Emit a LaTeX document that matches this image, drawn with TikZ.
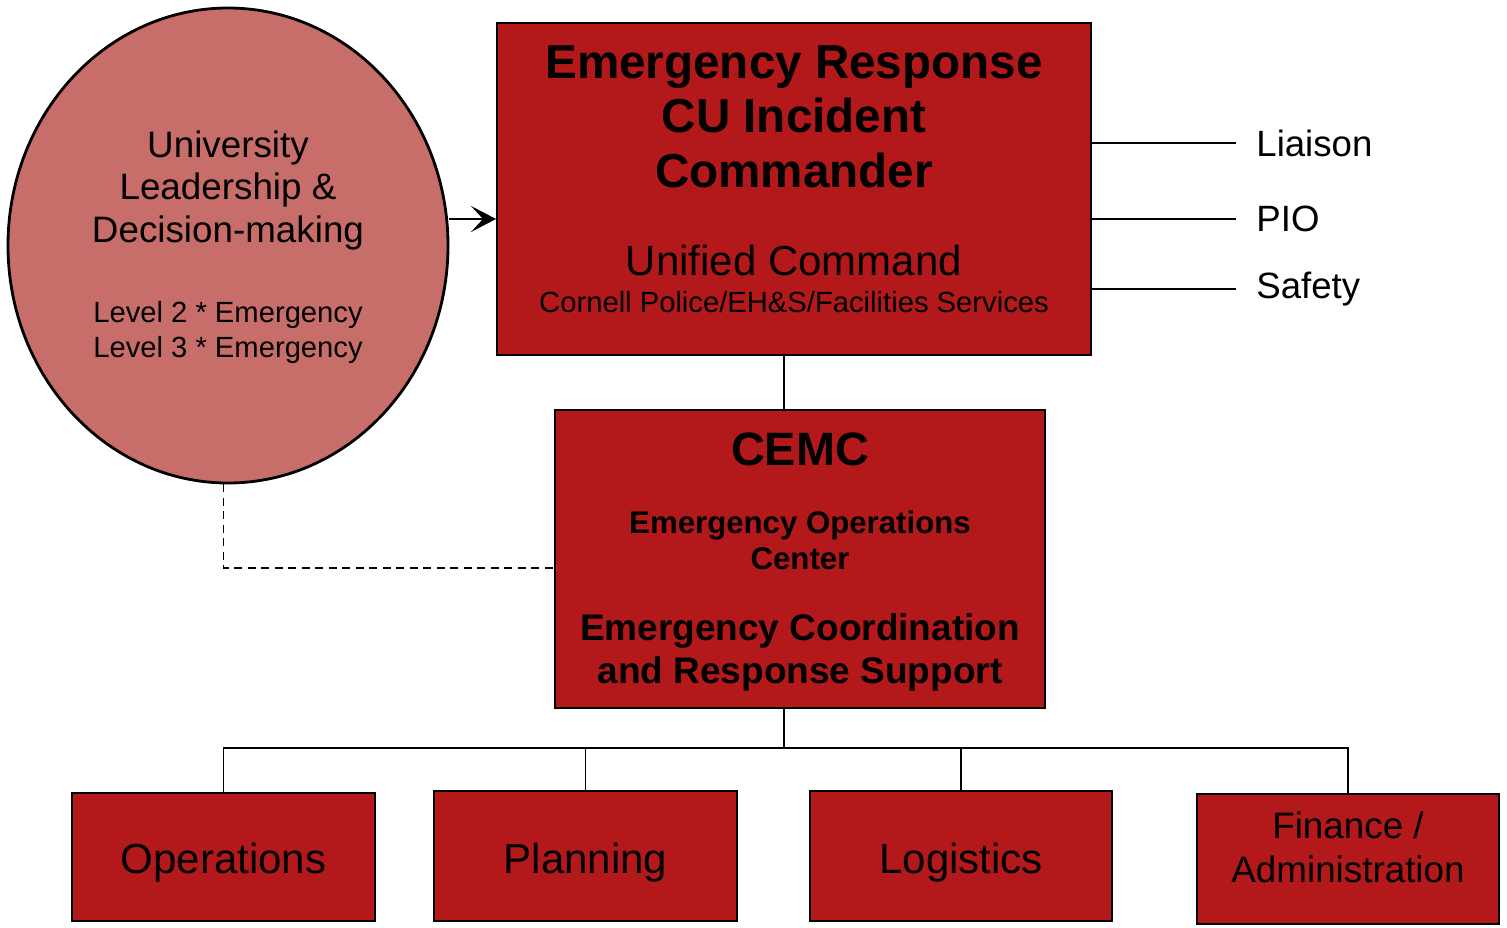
\documentclass[tikz,border=0pt]{standalone}
\usepackage{fontspec}
\setmainfont{Liberation Sans}
\usetikzlibrary{positioning,shapes.geometric,arrows.meta}
\definecolor{cured}{RGB}{179,25,26}
\definecolor{leadpink}{RGB}{200,110,106}
\tikzset{
  cubox/.style={draw=black, line width=1pt, fill=cured, inner sep=0pt},
  txt/.style={anchor=base, align=center, inner sep=0pt},
  staff/.style={anchor=west, inner xsep=10pt, inner ysep=0pt, font=\fontsize{18.3}{22}\selectfont},
  link/.style={draw, line width=0.8pt},
}
\begin{document}
\begin{tikzpicture}[x=0.5pt,y=-0.5pt]
\useasboundingbox (0,0) rectangle (1507,927);
% leadership circle
\node[draw, ellipse, line width=1.4pt, fill=leadpink, minimum width=220pt, minimum height=237.5pt, inner sep=0pt] (lead) at (228,245.5) {};
\node[txt, font=\fontsize{18.4}{21.25}\selectfont] (lead-t) at (228,242) {University\\Leadership \&\\Decision-making};
\node[txt, font=\fontsize{14.6}{17.5}\selectfont] (lead-l) at (228,357) {Level 2 * Emergency\\Level 3 * Emergency};
% incident commander
\node[cubox, minimum width=297pt, minimum height=166pt] (erc) at (794,189) {};
\node[txt, font=\fontsize{23.8}{27.25}\selectfont\bfseries] (erc-t) at (794,187) {Emergency Response\\CU Incident\\Commander};
\node[txt, font=\fontsize{21}{25}\selectfont] (erc-u) at (794,275) {Unified Command};
\node[txt, font=\fontsize{14.6}{17}\selectfont] (erc-c) at (794,312) {Cornell Police/EH\&S/Facilities Services};
% command staff
\node[staff] (liaison) at (1236,143) {Liaison};
\node[staff] (pio) at (1236,219) {PIO};
\node[staff] (safety) at (1236,289) {Safety};
% CEMC
\node[cubox, minimum width=245pt, minimum height=149pt] (cemc) at (800,559) {};
\node[txt, font=\fontsize{23.4}{27}\selectfont\bfseries] (cemc-t) at (800,465) {CEMC};
\node[txt, font=\fontsize{15.6}{18}\selectfont\bfseries] (cemc-e) at (800,569) {Emergency Operations\\Center};
\node[txt, font=\fontsize{18.5}{21.5}\selectfont\bfseries] (cemc-s) at (800,683) {Emergency Coordination\\and Response Support};
% sections
\node[cubox, minimum width=151.5pt, minimum height=64pt] (ops) at (223.5,857) {};
\node[cubox, minimum width=151.5pt, minimum height=65pt] (plan) at (585.5,856) {};
\node[cubox, minimum width=151pt, minimum height=65pt] (logi) at (961,856) {};
\node[cubox, minimum width=151pt, minimum height=65pt] (fin) at (1348,859) {};
\node[txt, font=\fontsize{21}{25}\selectfont] (ops-t) at (223.5,873) {Operations};
\node[txt, font=\fontsize{21}{25}\selectfont] (plan-t) at (585.5,873) {Planning};
\node[txt, font=\fontsize{21}{25}\selectfont] (logi-t) at (961,873) {Logistics};
\node[txt, font=\fontsize{18.4}{22}\selectfont] (fin-t) at (1348,882) {Finance /\\Administration};
% connectors
\coordinate (trunk) at (784,748);
\path[draw, line width=1pt, -{Stealth[length=12.5pt,width=13pt,inset=6pt]}] (lead.east |- 0,219) -- (erc.west |- 0,219);
\path[link] (erc.east |- liaison.west) -- (liaison.west);
\path[link] (erc.east |- pio.west) -- (pio.west);
\path[link] (erc.east |- safety.west) -- (safety.west);
\path[link] (erc.south -| trunk) -- (cemc.north -| trunk);
\path[link] (cemc.south -| trunk) -- (trunk);
\path[link] (ops.north) -- (ops.north |- trunk) -- (fin.north |- trunk) -- (fin.north);
\path[link] (plan.north) -- (plan.north |- trunk);
\path[link] (logi.north) -- (logi.north |- trunk);
\path[draw, line width=0.75pt, dash pattern=on 4pt off 2.75pt] (lead.south -| ops.north) |- ([yshift=-4.5pt]cemc.west);
\end{tikzpicture}
\end{document}
